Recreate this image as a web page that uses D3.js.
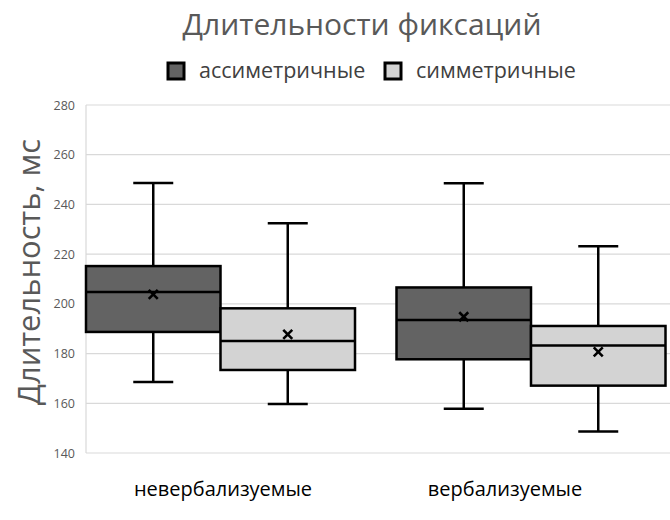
<!DOCTYPE html>
<html><head><meta charset="utf-8">
<script src="https://cdn.jsdelivr.net/npm/d3@7"></script>
<style>body{margin:0;background:#fff}svg{display:block}text{font-family:"Open Sans",sans-serif}</style>
</head><body><svg id="c" width="670" height="520"></svg>
<script>
const categories = ["невербализуемые", "вербализуемые"];
const seriesNames = ["ассиметричные", "симметричные"];
const seriesColors = ["#636363", "#d3d3d3"];
const yTicks = [140, 160, 180, 200, 220, 240, 260, 280];
// per series, per category
const whiskerLow  = [[168.6, 157.8], [159.7, 148.6]];
const q1          = [[188.7, 177.7], [173.4, 167.1]];
const median      = [[204.8, 193.5], [185.1, 183.2]];
const q3          = [[215.2, 206.6], [198.2, 191.1]];
const whiskerHigh = [[248.6, 248.5], [232.4, 223.2]];
const means       = [[203.8, 194.8], [187.7, 180.7]];

const svg = d3.select("#c");
const plotL = 86, plotR = 670;
const y = d3.scaleLinear().domain([140, 280]).range([453, 105]);
const xBox = d3.scaleBand().domain(categories).range([66, 687]);
const xSub = d3.scaleBand().domain(seriesNames).range([20, 289]);
const xLab = d3.scaleBand().domain(categories).range([82, 646]);

// gridlines
svg.append("g").selectAll("line").data(yTicks).join("line")
  .attr("x1", plotL).attr("x2", plotR)
  .attr("y1", d => y(d)).attr("y2", d => y(d))
  .attr("stroke", "#d9d9d9").attr("stroke-width", 1.2);
svg.append("line").attr("x1", plotL).attr("x2", plotL).attr("y1", y(280)).attr("y2", y(140))
  .attr("stroke", "#d9d9d9").attr("stroke-width", 1.2);

// y axis labels
const yAxis = d3.axisLeft(y).tickValues(yTicks).tickSize(0).tickPadding(11);
const ga = svg.append("g").attr("transform", `translate(${plotL},0)`).call(yAxis);
ga.select(".domain").remove();
ga.selectAll("text").attr("font-size", 12.5).attr("fill", "#595959").attr("font-family", "Open Sans");

// category labels
svg.append("g").selectAll("text").data(categories).join("text")
  .attr("x", d => xLab(d) + xLab.bandwidth() / 2).attr("y", 496)
  .attr("text-anchor", "middle").attr("font-size", 20).attr("fill", "#000").text(d => d);

// boxes
const boxes = [];
seriesNames.forEach((s, si) => categories.forEach((c, ci) => {
  boxes.push({s, si, c, ci});
}));
const g = svg.append("g");
boxes.forEach(b => {
  const x0 = xBox(b.c) + xSub(b.s);
  const w = xSub.bandwidth();
  const cx = x0 + w / 2;
  const lw = 2.5;
  g.append("line").attr("x1", cx).attr("x2", cx).attr("y1", y(whiskerHigh[b.si][b.ci])).attr("y2", y(q3[b.si][b.ci]))
    .attr("stroke", "#000").attr("stroke-width", lw);
  g.append("line").attr("x1", cx).attr("x2", cx).attr("y1", y(q1[b.si][b.ci])).attr("y2", y(whiskerLow[b.si][b.ci]))
    .attr("stroke", "#000").attr("stroke-width", lw);
  [whiskerHigh, whiskerLow].forEach(arr => {
    g.append("line").attr("x1", cx - 20).attr("x2", cx + 20)
      .attr("y1", y(arr[b.si][b.ci])).attr("y2", y(arr[b.si][b.ci]))
      .attr("stroke", "#000").attr("stroke-width", lw);
  });
  g.append("rect").attr("x", x0).attr("width", w)
    .attr("y", y(q3[b.si][b.ci])).attr("height", y(q1[b.si][b.ci]) - y(q3[b.si][b.ci]))
    .attr("fill", seriesColors[b.si]).attr("stroke", "#000").attr("stroke-width", lw);
  g.append("line").attr("x1", x0).attr("x2", x0 + w)
    .attr("y1", y(median[b.si][b.ci])).attr("y2", y(median[b.si][b.ci]))
    .attr("stroke", "#000").attr("stroke-width", lw);
  const my = y(means[b.si][b.ci]), r = 4.5;
  g.append("path").attr("d", `M${cx - r},${my - r}L${cx + r},${my + r}M${cx - r},${my + r}L${cx + r},${my - r}`)
    .attr("stroke", "#000").attr("stroke-width", 2.6);
});

// title
svg.append("text").attr("x", 362).attr("y", 35).attr("text-anchor", "middle")
  .attr("font-size", 30).attr("fill", "#595959").text("Длительности фиксаций");

// y title
svg.append("text").attr("transform", "translate(40,272) rotate(-90)").attr("text-anchor", "middle")
  .attr("font-size", 31).attr("fill", "#595959").text("Длительность, мс");

// legend
const legX = [168, 385];
const lg = svg.append("g").selectAll("g").data(seriesNames).join("g")
  .attr("transform", (d, i) => `translate(${legX[i]},63)`);
lg.append("rect").attr("width", 16).attr("height", 16).attr("fill", (d, i) => seriesColors[i])
  .attr("stroke", "#000").attr("stroke-width", 3);
lg.append("text").attr("x", 31).attr("y", 15).attr("font-size", 21.5).attr("fill", "#404040").text(d => d);
</script></body></html>
